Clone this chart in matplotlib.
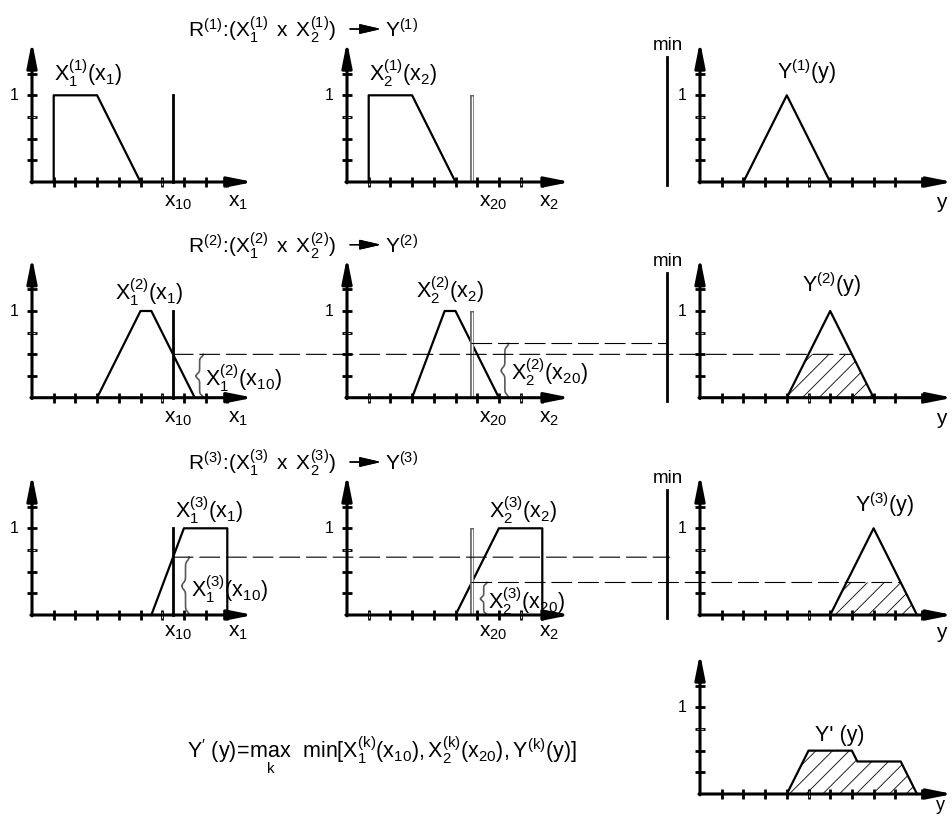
import numpy as np
import matplotlib
matplotlib.use('Agg')
import matplotlib.pyplot as plt
from matplotlib.patches import ConnectionPatch

plt.rcParams['font.family'] = 'Liberation Sans'
plt.rcParams['mathtext.fontset'] = 'custom'
plt.rcParams['mathtext.rm'] = 'Liberation Sans'
plt.rcParams['mathtext.it'] = 'Liberation Sans'
plt.rcParams['mathtext.bf'] = 'Liberation Sans:bold'
plt.rcParams['mathtext.default'] = 'regular'
plt.rcParams['hatch.linewidth'] = 0.6

# ---------------- data ----------------
x10 = 6.5
x20 = 5.75

# membership functions: x points, mu points
r1_x1 = ([1, 1, 3, 5], [0, 1, 1, 0])
r1_x2 = ([1, 1, 3, 5], [0, 1, 1, 0])
r1_y = ([2, 4, 6], [0, 1, 0])

r2_x1 = ([3, 5, 5.5, 7.5], [0, 1, 1, 0])
r2_x2 = ([3, 4.5, 5, 7], [0, 1, 1, 0])
r2_y = ([4, 6, 8], [0, 1, 0])

r3_x1 = ([5.5, 7, 9, 9], [0, 1, 1, 0])
r3_x2 = ([5, 7, 9, 9], [0, 1, 1, 0])
r3_y = ([6, 8, 10], [0, 1, 0])

# degrees of fulfilment at x10 / x20
mu2_x10 = 0.5
mu2_x20 = 0.625
mu3_x10 = 0.667
mu3_x20 = 0.375

# clipped consequents and the aggregated result
r2_cut = ([4, 5, 7, 8], [0, 0.5, 0.5, 0])
r3_cut = ([6, 6.75, 9.25, 10], [0, 0.375, 0.375, 0])
y_agg = ([4, 5, 7, 7.25, 9.25, 10], [0, 0.5, 0.5, 0.375, 0.375, 0])

x_ticks = [1, 2, 3, 4, 5, 6, 7, 8, 9]
y_ticks_out = [1, 2, 3, 4, 5, 6, 7, 8, 9, 10.25]
mu_ticks = [0.25, 0.5, 0.75, 1, 1.25]

# ---------------- layout ----------------
W, H = 952, 821
fig = plt.figure(figsize=(W / 100, H / 100), dpi=100)

SX, SY = 21.7, 86.7          # pixels per unit
XL, XR, YB, YT = -2.5, 11.8, -0.45, 1.8
col_x = [32, 347, 700]
row_y = [182, 397.7, 615, 794]
FS = 15.5   # curve labels


def panel(ox, oy):
    ax = fig.add_axes([(ox + XL * SX) / W, (H - oy + YB * SY) / H,
                       (XR - XL) * SX / W, (YT - YB) * SY / H])
    ax.set_xlim(XL, XR)
    ax.set_ylim(YB, YT)
    ax.axis('off')
    ax.patch.set_alpha(0)
    return ax


def axes_lines(ax, xend, ticks, hollow, xlabels, ylab=-0.24):
    arr = dict(arrowstyle='-|>,head_length=1.5,head_width=0.3', lw=2.2,
               color='k', shrinkA=0, shrinkB=0, mutation_scale=10)
    ax.annotate('', xy=(xend, 0), xytext=(-0.05, 0), arrowprops=arr, annotation_clip=False)
    ax.annotate('', xy=(0, 1.62), xytext=(0, -0.01), arrowprops=arr, annotation_clip=False)
    ax.plot(ticks, np.zeros(len(ticks)), ls='none', marker='|', ms=7, mew=2, color='k')
    ax.plot(np.zeros(len(mu_ticks)), mu_ticks, ls='none', marker='_', ms=7, mew=2, color='k')
    if hollow:
        ax.plot(hollow, np.zeros(len(hollow)), ls='none', marker='|', ms=5, mew=0.7, color='w')
    ax.plot([0], [0.75], ls='none', marker='_', ms=5, mew=0.7, color='w')
    ax.text(-0.6, 1, '1', ha='right', va='center', fontsize=11.5)
    for xx, s in xlabels:
        ax.text(xx, ylab, s, ha='center', va='center', fontsize=15)


def hollow_vline(ax, x, top):
    ax.plot([x, x], [0, top], color='0.4', lw=2.8, solid_capstyle='butt')
    ax.plot([x, x], [0.01, top - 0.01], color='w', lw=1.0, solid_capstyle='butt')


def brace(ax, x0, y0, y1, w):
    ym = (y0 + y1) / 2
    s = np.linspace(0, 1, 60)
    bend = w / 2 * (1 / (1 + np.exp(-(s - 0.12) / 0.04)) + 1 / (1 + np.exp(-(s - 0.88) / 0.04)))
    for ye in (y0, y1):
        ax.plot(x0 - bend, ye + (ym - ye) * s, color='0.35', lw=1.2)


def dashed(axA, xa, axB, xb, lvl):
    cp = ConnectionPatch(xyA=(xa, lvl), coordsA=axA.transData, xyB=(xb, lvl),
                         coordsB=axB.transData, linestyle=(0, (18, 6)), lw=0.8, color='k')
    fig.add_artist(cp)


def min_bar(ax):
    ax.plot([-1.5, -1.5], [-0.04, 1.44], color='k', lw=2)
    ax.text(-1.5, 1.57, 'min', ha='center', va='center', fontsize=13.5)


def title(row, k):
    yc = H - (row_y[row] - 152)
    fig.text(336 / W, yc / H, r'$R^{(%d)}\!:\!(X_1^{(%d)}\,\ x\ \,X_2^{(%d)})$' % (k, k, k),
             ha='right', va='center', fontsize=15)
    fig.add_artist(plt.annotate('', xy=(381 / W, (yc + 1) / H), xytext=(350 / W, (yc + 1) / H),
                                xycoords='figure fraction',
                                arrowprops=dict(arrowstyle='-|>,head_length=1.3,head_width=0.3',
                                                lw=1, color='k', mutation_scale=10,
                                                shrinkA=0, shrinkB=0)))
    fig.text(385 / W, yc / H, r'$Y^{(%d)}$' % k, ha='left', va='center', fontsize=15)


lab1 = [(6.75, r'$x_{10}$'), (9.5, r'$x_1$')]
lab2 = [(6.75, r'$x_{20}$'), (9.3, r'$x_2$')]
lab3 = [(11.1, 'y')]
lw = 1.6

# ---------------- row 1 ----------------
a11 = panel(col_x[0], row_y[0])
axes_lines(a11, 10.2, x_ticks, [6], lab1)
a11.plot(*r1_x1, color='k', lw=lw)
a11.plot([x10, x10], [0, 1], color='k', lw=2)
a11.text(2.6, 1.26, r'$X_1^{(1)}(x_1)$', ha='center', va='center', fontsize=FS)

a12 = panel(col_x[1], row_y[0])
axes_lines(a12, 10.3, x_ticks, [1, 8, 9], lab2)
a12.plot(*r1_x2, color='k', lw=lw)
hollow_vline(a12, x20, 1)
a12.text(2.6, 1.26, r'$X_2^{(1)}(x_2)$', ha='center', va='center', fontsize=FS)

a13 = panel(col_x[2], row_y[0])
axes_lines(a13, 11.65, y_ticks_out, [5], lab3)
a13.plot(*r1_y, color='k', lw=lw)
min_bar(a13)
a13.text(4.9, 1.27, r'$Y^{(1)}(y)$', ha='center', va='center', fontsize=FS)
title(0, 1)

# ---------------- row 2 ----------------
a21 = panel(col_x[0], row_y[1])
axes_lines(a21, 10.2, x_ticks, [6], lab1)
a21.plot(*r2_x1, color='k', lw=lw)
a21.plot([x10, x10], [0, 1], color='k', lw=2)
brace(a21, 7.9, 0.0, mu2_x10, 0.35)
a21.text(7.95, mu2_x10 / 2 - 0.02, r'$X_1^{(2)}(x_{10})$', ha='left', va='center', fontsize=FS)
a21.text(5.4, 1.22, r'$X_1^{(2)}(x_1)$', ha='center', va='center', fontsize=FS)

a22 = panel(col_x[1], row_y[1])
axes_lines(a22, 10.3, x_ticks, [1, 8, 9], lab2)
a22.plot(*r2_x2, color='k', lw=lw)
hollow_vline(a22, x20, 1)
brace(a22, 7.45, 0.0, mu2_x20, 0.35)
a22.text(7.55, mu2_x20 / 2 - 0.02, r'$X_2^{(2)}(x_{20})$', ha='left', va='center', fontsize=FS)
a22.text(4.75, 1.24, r'$X_2^{(2)}(x_2)$', ha='center', va='center', fontsize=FS)

a23 = panel(col_x[2], row_y[1])
axes_lines(a23, 11.65, y_ticks_out, [5], lab3)
a23.fill(*r2_cut, facecolor='none', edgecolor='k', hatch='//', lw=0)
a23.plot(*r2_y, color='k', lw=lw)
min_bar(a23)
a23.text(6.05, 1.3, r'$Y^{(2)}(y)$', ha='center', va='center', fontsize=FS)
title(1, 2)

dashed(a21, x10, a23, r2_cut[0][2], mu2_x10)
dashed(a22, x20, a23, -1.5, mu2_x20)

# ---------------- row 3 ----------------
a31 = panel(col_x[0], row_y[2])
axes_lines(a31, 10.2, x_ticks, [6], lab1, ylab=-0.2)
a31.plot(*r3_x1, color='k', lw=lw)
a31.plot([x10, x10], [0, 1], color='k', lw=2)
brace(a31, 7.25, 0.0, mu3_x10, 0.35)
a31.text(7.35, mu3_x10 / 2 - 0.04, r'$X_1^{(3)}(x_{10})$', ha='left', va='center', fontsize=FS)
a31.text(8.15, 1.21, r'$X_1^{(3)}(x_1)$', ha='center', va='center', fontsize=FS)

a32 = panel(col_x[1], row_y[2])
axes_lines(a32, 10.3, x_ticks, [1, 8], lab2, ylab=-0.2)
a32.plot(*r3_x2, color='k', lw=lw)
hollow_vline(a32, x20, 1)
brace(a32, 6.45, 0.0, mu3_x20, 0.3)
a32.text(6.5, mu3_x20 / 2 - 0.03, r'$X_2^{(3)}(x_{20})$', ha='left', va='center', fontsize=FS)
a32.text(8.1, 1.21, r'$X_2^{(3)}(x_2)$', ha='center', va='center', fontsize=FS)

a33 = panel(col_x[2], row_y[2])
axes_lines(a33, 11.65, y_ticks_out, [5], lab3, ylab=-0.2)
a33.fill(*r3_cut, facecolor='none', edgecolor='k', hatch='//', lw=0)
a33.plot(*r3_y, color='k', lw=lw)
min_bar(a33)
a33.text(8.5, 1.27, r'$Y^{(3)}(y)$', ha='center', va='center', fontsize=FS)
title(2, 3)

dashed(a31, x10, a33, -1.4, mu3_x10)
dashed(a32, x20, a33, r3_cut[0][2], mu3_x20)

# ---------------- row 4: aggregated output ----------------
a43 = panel(col_x[2], row_y[3])
axes_lines(a43, 11.65, y_ticks_out, [5], [], ylab=-0.15)
a43.text(11.1, -0.13, 'y', ha='center', va='center', fontsize=13)
a43.fill(*y_agg, facecolor='none', edgecolor='k', hatch='//', lw=0)
a43.plot(*y_agg, color='k', lw=lw)
a43.text(6.45, 0.68, "Y' (y)", ha='center', va='center', fontsize=FS)

fig.text(382 / W, (H - 755) / H,
         r"$Y'\ (y)\!=\!\max_k\ \ \min[X_1^{(k)}(x_{10}),X_2^{(k)}(x_{20}),Y^{(k)}(y)]$",
         ha='center', va='center', fontsize=15.5)

plt.savefig('out.png', dpi=100)
